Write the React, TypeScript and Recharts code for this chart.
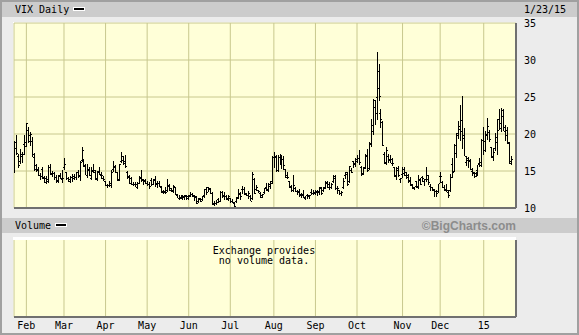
import type { CSSProperties } from 'react'
import { Bar, CartesianGrid, ComposedChart, XAxis, YAxis } from 'recharts'

// x = trading day index, 24 Jan 2014 .. 23 Jan 2015
const monthStarts = [6, 25, 46, 67, 88, 109, 131, 152, 173, 196, 215, 237]
const monthLabels = ['Feb', 'Mar', 'Apr', 'May', 'Jun', 'Jul', 'Aug', 'Sep', 'Oct', 'Nov', 'Dec', '15']
const priceTicks = [10, 15, 20, 25, 30, 35]

const opens = [
  // Jan
  14.95, 18.9, 17.0, 16.4, 17.0, 18.6,
  // Feb
  18.9, 20.5, 19.9, 19.0, 16.9, 15.8, 15.2, 14.4, 15.3, 14.1, 14.0, 13.6, 15.6, 14.6, 14.7, 14.2, 13.8, 14.5, 13.9,
  // Mar
  15.5, 14.8, 14.0, 13.7, 14.2, 14.3, 14.2, 14.9, 14.3, 16.5, 16.5, 15.8, 14.4, 15.3, 14.0, 15.2, 14.9, 13.9, 15.0, 14.5, 14.1,
  // Apr
  13.6, 13.1, 13.1, 13.1, 15.3, 15.7, 14.8, 13.9, 16.3, 16.5, 16.4, 14.9, 14.3, 14.1, 13.3, 13.3, 12.8, 13.4, 14.2, 13.8, 13.8,
  // May
  13.4, 13.2, 13.8, 13.3, 13.9, 13.2, 13.4, 12.9, 12.2, 12.3, 12.4, 13.0, 12.7, 12.3, 12.8, 11.8, 11.4, 11.5, 11.6, 11.5, 11.7,
  // Jun
  11.6, 11.8, 11.9, 11.7, 11.5, 10.9, 11.3, 11.2, 11.7, 12.6, 12.8, 12.6, 12.0, 10.6, 10.7, 11.2, 11.0, 12.2, 11.8, 11.6, 11.4,
  // Jul
  11.3, 11.0, 10.7, 10.9, 11.5, 11.9, 12.6, 12.6, 11.9, 11.7, 11.6, 11.4, 13.9, 12.6, 12.4, 12.0, 11.7, 12.1, 12.9, 12.5, 13.0, 13.7,
  // Aug
  16.9, 16.9, 15.2, 16.9, 15.9, 16.6, 15.3, 14.4, 13.6, 13.0, 12.4, 12.7, 12.3, 12.3, 11.9, 11.9, 11.4, 11.7, 11.7, 12.2, 12.0,
  // Sep
  12.2, 12.2, 12.2, 12.8, 12.5, 12.8, 13.4, 13.2, 12.9, 13.6, 14.3, 12.7, 12.4, 12.0, 12.8, 14.4, 14.6, 13.6, 15.2, 16.3, 16.1,
  // Oct
  16.6, 16.8, 15.6, 14.7, 15.6, 17.0, 15.4, 18.7, 20.4, 23.7, 25.0, 28.5, 22.8, 21.6, 17.3, 16.2, 17.0, 16.6, 16.6, 15.6, 14.5, 15.4, 13.9,
  // Nov
  14.6, 15.3, 14.5, 14.4, 13.8, 13.2, 12.8, 13.6, 12.8, 13.9, 14.2, 13.7, 13.9, 14.4, 13.0, 12.9, 12.5, 12.3, 12.3,
  // Dec
  14.3, 13.5, 12.9, 12.6, 12.2, 12.4, 16.0, 15.0, 17.4, 19.8, 20.7, 21.9, 19.9, 16.2, 16.5, 16.3, 15.0, 14.7, 14.7, 15.2, 16.1, 15.8,
  // Jan 2015
  19.2, 19.0, 20.0, 20.3, 18.2, 16.9, 18.1, 18.9, 22.0, 20.8, 23.2, 20.4, 20.6, 18.9, 16.1,
]

const highs = [
  19.0, 19.9, 17.3, 18.0, 17.6, 19.8,
  21.48, 21.0, 20.3, 19.6, 17.5, 15.9, 15.5, 14.7, 15.5, 14.3, 14.3, 15.8, 16.0, 15.0, 14.8, 14.5, 14.5, 14.7, 15.2,
  16.8, 14.9, 14.2, 14.3, 14.6, 14.6, 14.9, 15.2, 16.3, 18.2, 16.6, 15.9, 15.9, 15.5, 15.5, 16.0, 15.2, 15.0, 15.5, 14.8, 14.3,
  13.6, 13.3, 13.6, 15.2, 16.3, 15.8, 14.9, 15.9, 17.6, 17.0, 17.1, 15.0, 14.4, 14.2, 13.5, 13.5, 13.5, 14.3, 15.2, 13.9, 13.9,
  13.6, 13.5, 14.0, 13.9, 14.3, 13.7, 13.6, 13.0, 12.4, 12.8, 13.9, 13.2, 12.7, 13.1, 12.9, 11.9, 11.8, 11.8, 11.8, 11.7, 11.8,
  11.8, 12.1, 12.0, 11.8, 11.6, 11.3, 11.3, 11.6, 12.6, 12.8, 12.8, 12.7, 12.2, 11.0, 11.1, 11.4, 12.3, 12.3, 12.2, 11.7, 11.8,
  11.4, 11.2, 10.8, 11.5, 12.6, 12.1, 13.0, 12.9, 12.0, 12.3, 11.7, 14.8, 14.0, 13.1, 12.4, 12.2, 11.9, 12.7, 13.4, 13.4, 13.6, 17.0,
  17.6, 17.1, 17.2, 17.3, 17.2, 17.0, 15.3, 14.8, 13.7, 13.1, 14.5, 12.8, 12.5, 12.6, 12.0, 12.4, 11.6, 11.9, 11.8, 12.6, 12.4,
  12.4, 12.5, 12.8, 12.9, 12.8, 13.6, 13.6, 13.5, 13.4, 14.4, 14.5, 13.0, 12.4, 12.3, 14.0, 14.9, 14.9, 15.7, 15.4, 16.4, 16.8,
  17.1, 17.9, 15.7, 15.5, 17.3, 18.0, 18.9, 22.0, 24.7, 24.6, 31.06, 29.4, 23.4, 21.7, 17.6, 18.2, 17.3, 17.1, 16.8, 15.6, 15.5, 15.7, 14.1,
  15.6, 15.6, 14.9, 14.6, 14.2, 13.3, 12.9, 13.7, 14.4, 14.0, 14.3, 13.9, 15.5, 14.5, 13.2, 12.9, 12.6, 12.5, 13.3,
  14.8, 13.6, 13.1, 13.3, 12.4, 14.6, 16.7, 18.6, 20.1, 21.8, 23.9, 25.2, 20.8, 17.0, 16.9, 16.6, 15.4, 14.9, 14.9, 15.8, 16.8, 19.3,
  20.9, 20.4, 22.2, 20.5, 18.2, 18.1, 20.1, 22.0, 23.4, 23.5, 23.4, 21.2, 20.9, 18.9, 17.0,
]

const lows = [
  14.85, 17.4, 15.6, 16.1, 16.3, 17.3,
  18.4, 19.0, 18.5, 17.1, 15.2, 15.0, 14.4, 13.9, 14.0, 13.5, 13.4, 13.5, 14.6, 14.3, 13.9, 13.6, 13.6, 14.0, 13.6,
  15.3, 14.0, 13.6, 13.5, 13.7, 13.9, 13.9, 14.3, 13.8, 16.3, 15.6, 14.5, 14.1, 14.4, 13.9, 14.9, 14.0, 13.8, 14.5, 14.0, 13.8,
  13.0, 12.9, 12.9, 12.9, 15.0, 14.8, 13.8, 13.7, 16.2, 15.9, 15.5, 14.0, 13.3, 13.2, 13.1, 12.9, 12.7, 13.3, 13.7, 13.2, 13.4,
  13.0, 12.7, 13.0, 13.2, 13.0, 12.9, 12.9, 12.2, 12.0, 12.0, 12.3, 12.4, 12.3, 12.2, 11.9, 11.5, 11.3, 11.4, 11.3, 11.1, 11.2,
  11.3, 11.5, 11.6, 11.1, 10.7, 10.8, 10.9, 11.0, 11.5, 11.9, 12.2, 12.0, 10.6, 10.5, 10.6, 10.9, 10.9, 11.5, 11.3, 11.2, 11.1,
  10.9, 10.8, 10.3, 10.8, 11.4, 11.2, 12.1, 12.0, 11.7, 11.4, 11.0, 11.2, 12.0, 12.4, 12.1, 11.5, 11.5, 12.0, 12.5, 12.3, 12.6, 13.4,
  15.6, 15.0, 15.0, 15.9, 15.5, 15.2, 14.2, 14.0, 12.9, 12.3, 12.3, 12.2, 12.0, 11.7, 11.5, 11.4, 11.2, 11.3, 11.4, 11.9, 11.8,
  11.9, 11.8, 11.9, 11.9, 12.2, 12.6, 12.8, 12.6, 12.7, 13.4, 12.6, 12.1, 11.8, 11.8, 12.6, 14.1, 13.2, 13.5, 14.8, 15.6, 15.7,
  16.1, 16.0, 14.5, 14.5, 15.4, 15.0, 15.2, 18.3, 20.0, 21.3, 22.0, 24.6, 20.9, 18.5, 16.1, 15.9, 16.2, 16.1, 15.9, 14.4, 13.9, 14.3, 13.5,
  14.2, 14.5, 14.1, 13.5, 13.1, 12.7, 12.6, 12.9, 12.7, 13.2, 13.6, 13.1, 13.6, 13.3, 12.4, 12.5, 11.7, 11.7, 12.2,
  13.5, 12.8, 12.4, 12.3, 11.5, 12.3, 14.1, 14.9, 16.9, 19.5, 19.2, 18.2, 17.1, 15.8, 15.6, 15.2, 14.5, 14.2, 14.3, 14.6, 15.7, 15.6,
  17.2, 17.7, 19.4, 19.0, 16.9, 16.5, 17.8, 17.3, 20.7, 20.4, 20.6, 19.2, 18.8, 16.1, 15.9,
]

const closes = [
  18.14, 17.42, 15.8, 17.35, 17.29, 18.41,
  21.44, 19.11, 19.95, 17.23, 15.29, 15.26, 14.51, 14.3, 14.14, 13.57, 13.87, 15.5, 14.79, 14.68, 14.23, 13.67, 14.35, 14.04, 14.0,
  16.0, 14.1, 13.89, 14.21, 14.11, 14.2, 14.8, 14.47, 16.22, 17.82, 15.64, 14.52, 15.12, 14.52, 15.0, 15.09, 14.02, 14.93, 14.62, 14.41, 13.88,
  13.1, 13.09, 13.37, 14.89, 15.57, 14.89, 13.82, 15.89, 17.03, 16.11, 15.61, 14.18, 13.36, 13.25, 13.19, 13.27, 13.32, 14.06, 13.97, 13.71, 13.41,
  13.25, 12.91, 13.29, 13.8, 13.4, 13.43, 12.92, 12.23, 12.13, 12.17, 13.17, 12.44, 12.42, 12.96, 11.91, 11.36, 11.36, 11.51, 11.68, 11.57, 11.4,
  11.58, 11.87, 11.68, 11.68, 10.73, 11.15, 10.99, 11.6, 12.56, 12.18, 12.65, 12.06, 10.61, 10.62, 10.85, 10.98, 12.13, 11.59, 11.63, 11.26, 11.57,
  10.99, 10.82, 10.32, 11.33, 11.98, 11.65, 12.59, 12.08, 11.82, 11.96, 11.0, 14.54, 12.06, 12.81, 12.24, 11.52, 11.84, 12.69, 12.56, 13.28, 13.33, 16.95,
  17.03, 15.12, 16.87, 16.37, 16.66, 15.77, 14.23, 14.13, 12.9, 12.42, 13.15, 12.32, 12.21, 11.78, 11.76, 11.47, 11.7, 11.63, 11.78, 12.05, 12.09,
  12.25, 12.36, 12.64, 12.09, 12.66, 13.5, 12.88, 12.8, 13.31, 14.12, 12.73, 12.65, 12.03, 12.11, 13.69, 14.93, 13.27, 15.64, 14.85, 15.98, 16.31,
  16.71, 16.16, 14.55, 15.46, 17.2, 15.11, 18.76, 21.24, 24.64, 22.79, 26.25, 25.2, 21.99, 18.57, 16.08, 17.87, 16.53, 16.11, 16.04, 14.39, 15.15, 14.52, 14.03,
  14.73, 14.89, 14.17, 13.67, 13.12, 12.67, 12.92, 13.02, 13.79, 13.31, 13.99, 13.86, 13.96, 13.58, 12.9, 12.62, 12.25, 12.07, 13.33,
  14.29, 12.85, 12.47, 12.38, 11.82, 14.21, 14.89, 18.53, 20.08, 21.08, 20.42, 19.44, 17.0, 16.81, 16.49, 15.25, 14.8, 14.37, 14.5, 15.92, 16.2, 19.2,
  17.79, 19.92, 21.12, 19.31, 17.01, 17.55, 19.6, 20.56, 21.48, 22.39, 20.95, 19.89, 18.85, 16.4, 16.66,
]

const rows = closes.map((close, day) => ({
  day,
  open: opens[day],
  high: highs[day],
  low: lows[day],
  close,
  range: [lows[day], highs[day]],
}))

const mono = 'DejaVu Sans Mono, monospace'
const axisFont = { fontFamily: mono, fontSize: 10, fill: '#000' }
const gridColor = '#c8c88e'
const plotFill = '#ffffd8'
const shadow = '#707070'
const xDomain: [number, number] = [-0.25, 253.3]

function OhlcBar(props: any) {
  const { x, y, width, height, payload } = props
  if (!payload || !Number.isFinite(x) || !Number.isFinite(y)) return null
  const top = Math.min(y, y + height)
  const span = Math.abs(height)
  const cx = Math.floor(x + width / 2)
  const range = payload.high - payload.low || 1
  const yOpen = Math.round(top + (span * (payload.high - payload.open)) / range)
  const yClose = Math.round(top + (span * (payload.high - payload.close)) / range)
  return (
    <g fill="#000" shapeRendering="crispEdges">
      <rect x={cx} y={Math.round(top)} width={1} height={Math.max(1, Math.round(span) + 1)} />
      <rect x={cx - 1} y={yOpen} width={1} height={1} />
      <rect x={cx + 1} y={yClose} width={1} height={1} />
    </g>
  )
}

const band: CSSProperties = {
  position: 'absolute',
  left: 0,
  right: 0,
  height: 15,
  background: '#cccccc',
}

const label: CSSProperties = {
  position: 'absolute',
  fontFamily: mono,
  fontSize: 10,
  lineHeight: '12px',
  color: '#000',
  whiteSpace: 'pre',
}

const swatch: CSSProperties = {
  position: 'absolute',
  width: 10,
  height: 2,
  background: '#000',
  border: '1px solid #fff',
}

export default function App() {
  return (
    <div
      style={{
        position: 'fixed',
        left: 0,
        top: 0,
        width: 579,
        height: 335,
        boxSizing: 'border-box',
        border: '2px solid #a0a0a0',
        background: '#ececec',
        overflow: 'hidden',
      }}
    >
      <div style={{ ...band, top: 0 }} />
      <div style={{ ...label, left: 13, top: 2 }}>VIX Daily</div>
      <div style={{ ...swatch, left: 71, top: 5 }} />
      <div style={{ ...label, left: 522, top: 2 }}>1/23/15</div>

      <div style={{ ...band, top: 216 }} />
      <div style={{ ...label, left: 13, top: 218 }}>Volume</div>
      <div style={{ ...swatch, left: 53, top: 221 }} />
      <div
        style={{
          position: 'absolute',
          right: 61,
          top: 217,
          fontFamily: 'Liberation Sans, Arial, sans-serif',
          fontWeight: 'bold',
          fontSize: 12,
          lineHeight: '14px',
          color: '#8c8c8c',
        }}
      >
        ©BigCharts.com
      </div>

      {/* white edge on the top/left of both plots */}
      <div style={{ position: 'absolute', left: 11, top: 20, width: 503, height: 186, background: '#fff' }} />
      <div style={{ position: 'absolute', left: 11, top: 235, width: 503, height: 80, background: '#fff' }} />

      <div style={{ position: 'absolute', left: -2, top: -2 }}>
        <ComposedChart
          width={579}
          height={216}
          data={rows}
          margin={{ top: 23, right: 0, bottom: 6, left: 14 }}
        >
          <CartesianGrid fill={plotFill} stroke={gridColor} strokeWidth={1} />
          <XAxis
            dataKey="day"
            type="number"
            domain={xDomain}
            allowDataOverflow
            ticks={monthStarts}
            interval={0}
            tickFormatter={() => ''}
            tickLine={false}
            height={2}
            axisLine={{ stroke: shadow, strokeWidth: 2 }}
          />
          <YAxis
            orientation="right"
            width={63}
            domain={[10, 35]}
            allowDataOverflow
            ticks={priceTicks}
            interval={0}
            tickLine={false}
            tickSize={6}
            tickMargin={2}
            axisLine={{ stroke: shadow, strokeWidth: 2 }}
            tick={axisFont}
          />
          <Bar dataKey="range" shape={OhlcBar} isAnimationActive={false} />
        </ComposedChart>
      </div>

      <div style={{ position: 'absolute', left: -2, top: 228 }}>
        <ComposedChart
          width={579}
          height={105}
          data={rows}
          margin={{ top: 10, right: 0, bottom: 0, left: 14 }}
        >
          <CartesianGrid fill={plotFill} stroke={gridColor} horizontal={false} />
          <XAxis
            dataKey="day"
            type="number"
            domain={xDomain}
            allowDataOverflow
            ticks={monthStarts}
            tickFormatter={(value) => monthLabels[monthStarts.indexOf(value)] ?? ''}
            interval={0}
            tickLine={false}
            tickSize={3}
            tickMargin={2}
            height={18}
            axisLine={{ stroke: shadow, strokeWidth: 2 }}
            tick={axisFont}
          />
          <YAxis
            orientation="right"
            width={63}
            domain={[0, 1]}
            tick={false}
            tickLine={false}
            axisLine={{ stroke: shadow, strokeWidth: 2 }}
          />
        </ComposedChart>
      </div>

      <div style={{ ...label, left: 160, width: 204, top: 244, textAlign: 'center', lineHeight: '10px' }}>
        {'Exchange provides\nno volume data.'}
      </div>
    </div>
  )
}
